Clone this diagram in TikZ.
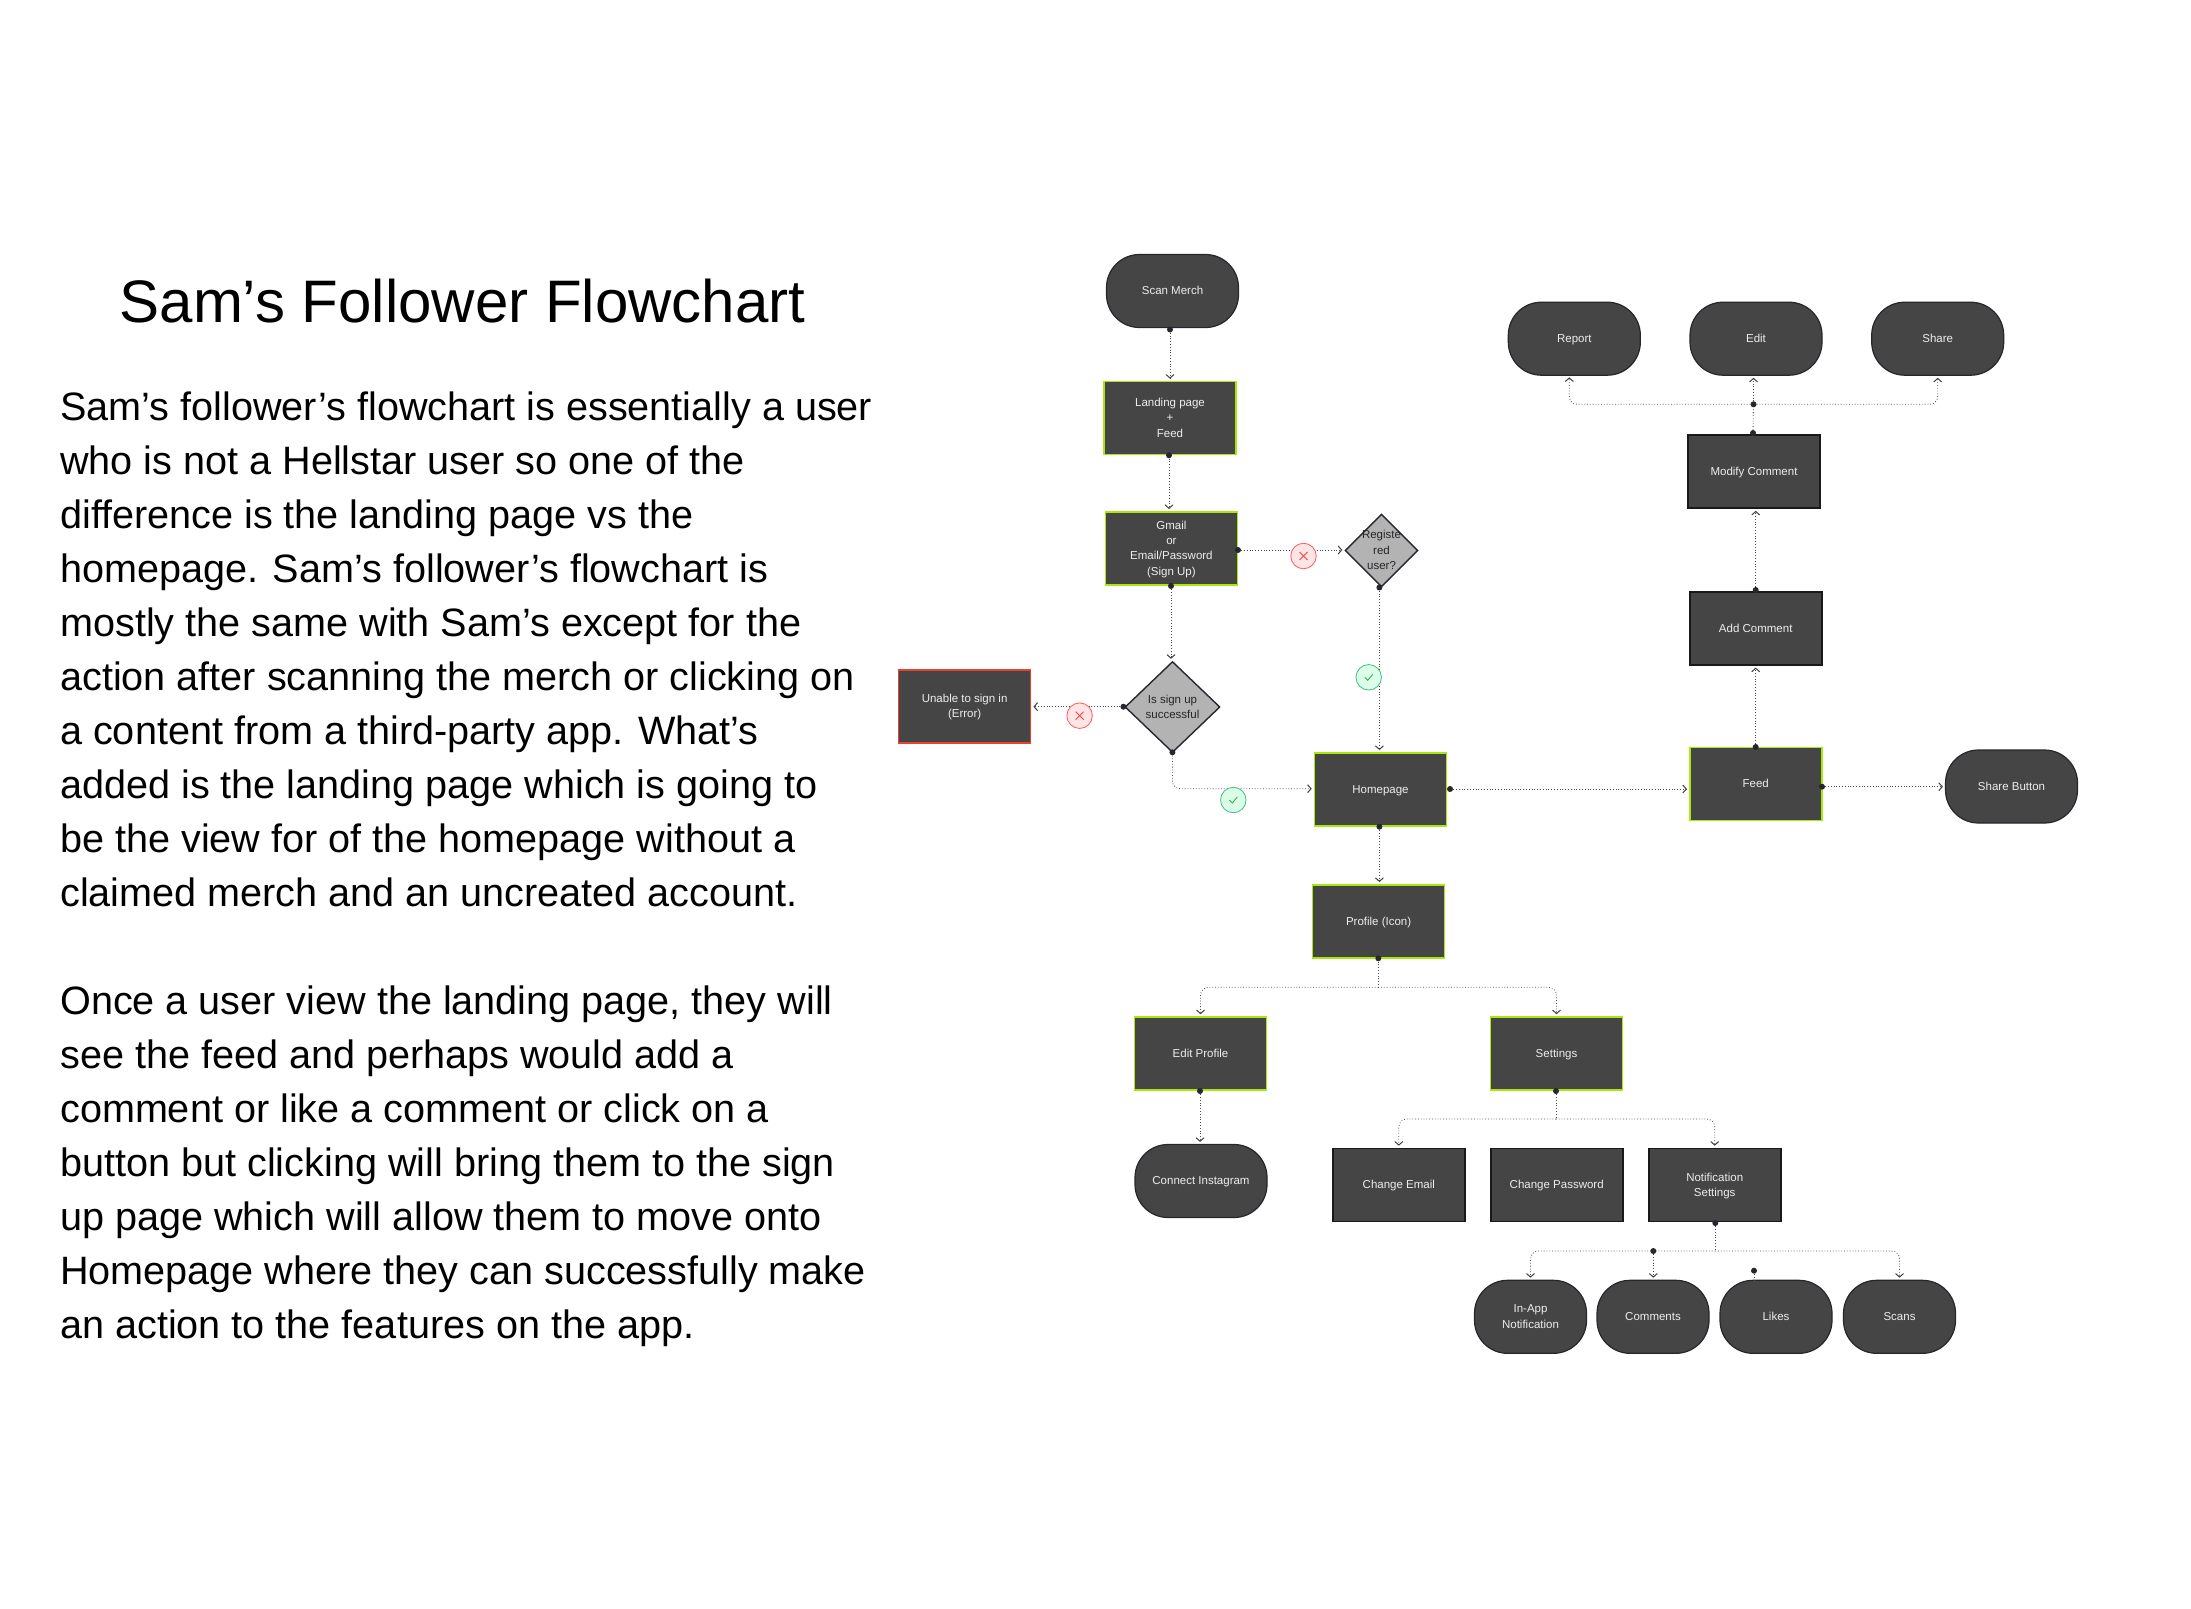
\documentclass[tikz,border=0pt]{standalone}
\usepackage{fontspec}
\setmainfont{Liberation Sans}
\usetikzlibrary{arrows.meta,shapes.geometric}
\definecolor{boxfill}{HTML}{454545}
\definecolor{edgedark}{HTML}{26262E}
\definecolor{lime}{HTML}{A9E80C}
\definecolor{dia}{HTML}{B3B3B3}
\definecolor{errred}{HTML}{E8432E}
\newcommand{\tl}[1]{\raisebox{-0.7pt}[\height][\depth]{\begin{tabular}{@{}c@{}}#1\end{tabular}}}
\tikzset{
 x=1pt,y=-1pt,
 boxbase/.style={fill=boxfill,minimum width=132pt,minimum height=73pt,inner sep=0pt,align=center,text=white!93!black,font=\fontsize{11.5}{15.3}\selectfont},
 limebox/.style={boxbase,draw=lime,line width=1.6pt},
 redbox/.style={boxbase,draw=errred,line width=1.6pt},
 darkbox/.style={boxbase,draw=black!90,line width=1.6pt},
 pill/.style={boxbase,draw=edgedark,line width=1.2pt,rounded corners=33pt},
 decision/.style={diamond,aspect=1,fill=dia,draw=edgedark,line width=1.4pt,inner sep=0pt,align=center,text=black!85,font=\fontsize{11.5}{15.3}\selectfont},
 dotm/.style={circle,fill=edgedark,minimum size=6pt,inner sep=0pt},
 conn/.style={draw=black!70,line width=0.8pt,dotted,shorten >=2pt,rounded corners=8pt,-{Straight Barb[length=3.5pt,width=8pt,line width=1pt,black!75]}},
 link/.style={draw=black!70,line width=0.8pt,dotted,rounded corners=8pt},
 nobadge/.style={circle,fill=red!10,draw=red!65,line width=0.8pt,minimum size=25.5pt,inner sep=0pt},
 yesbadge/.style={circle,fill=green!60!cyan!15,draw=green!50!cyan!60!black!70,line width=0.8pt,minimum size=25.5pt,inner sep=0pt},
 cross/.style={draw=red!75,line width=0.9pt},
 tick/.style={draw=green!50!black!70,line width=0.9pt},
}
\begin{document}
\begin{tikzpicture}
\useasboundingbox (0,0) rectangle (2191,1608);
\node[anchor=center,inner sep=0pt,font=\fontsize{60}{70}\selectfont] (title) at (462.5,301) {Sam’s Follower Flowchart};
\node[anchor=north west,inner sep=0pt,align=left,font=\fontsize{39.6}{54.03}\selectfont] (body) at (60,391.5) {Sam’s follower’s flowchart is essentially a user\\
who is not a Hellstar user so one of the\\
difference is the landing page vs the\\
homepage. Sam’s follower’s flowchart is\\
mostly the same with Sam’s except for the\\
action after scanning the merch or clicking on\\
a content from a third-party app. What’s\\
added is the landing page which is going to\\
be the view for of the homepage without a\\
claimed merch and an uncreated account.\\
\mbox{}\\
Once a user view the landing page, they will\\
see the feed and perhaps would add a\\
comment or like a comment or click on a\\
button but clicking will bring them to the sign\\
up page which will allow them to move onto\\
Homepage where they can successfully make\\
an action to the features on the app.};

% nodes
\node[pill] (scan) at (1172.5,291) {\tl{Scan Merch}};
\node[limebox] (landing) at (1170,418) {\tl{Landing page\\+\\Feed}};
\node[limebox] (gmail) at (1171.4,548.3) {\tl{Gmail\\or\\Email/Password\\(Sign Up)}};
\node[decision,minimum width=73pt,minimum height=73pt,inner sep=-3.6pt] (reg) at (1381.5,550.5) {\tl{Registe\\red\\user?}};
\node[decision,minimum width=95pt,minimum height=91pt,aspect=1.04] (ok) at (1172.5,707) {\tl{Is sign up\\successful}};
\node[redbox] (err) at (964.6,706.3) {\tl{Unable to sign in\\(Error)}};
\node[limebox] (home) at (1380.5,789.3) {\tl{Homepage}};
\node[limebox] (profile) at (1378.6,921.3) {\tl{Profile (Icon)}};
\node[limebox] (edit) at (1200.5,1053.5) {\tl{Edit Profile}};
\node[limebox] (settings) at (1556.5,1053.5) {\tl{Settings}};
\node[pill] (insta) at (1201,1181) {\tl{Connect Instagram}};
\node[darkbox] (email) at (1398.8,1185) {\tl{Change Email}};
\node[darkbox] (pass) at (1556.7,1185) {\tl{Change Password}};
\node[darkbox] (notif) at (1714.7,1185) {\tl{Notification\\Settings}};
\node[pill,minimum width=112pt] (inapp) at (1530.5,1316.8) {\tl{In-App\\Notification}};
\node[pill,minimum width=112pt] (comments) at (1653,1316.8) {\tl{Comments}};
\node[pill,minimum width=112pt] (likes) at (1776,1316.8) {\tl{Likes}};
\node[pill,minimum width=112pt] (scans) at (1899.5,1316.8) {\tl{Scans}};
\node[pill] (report) at (1574.3,338.7) {\tl{Report}};
\node[pill] (editc) at (1756,338.7) {\tl{Edit}};
\node[pill] (share) at (1937.7,338.7) {\tl{Share}};
\node[darkbox] (modify) at (1754,471.5) {\tl{Modify Comment}};
\node[darkbox] (add) at (1755.7,628.3) {\tl{Add Comment}};
\node[limebox] (feed) at (1755.7,784) {\tl{Feed}};
\node[pill] (sharebtn) at (2011.5,786.5) {\tl{Share Button}};

% connector origins
\node[dotm] (d1) at (1170,329.5) {};
\node[dotm] (d2) at (1169,455.3) {};
\node[dotm] (d3) at (1238,550) {};
\node[dotm] (d4) at (1171,586) {};
\node[dotm] (d5) at (1379.4,587.5) {};
\node[dotm] (d6) at (1123.4,706.7) {};
\node[dotm] (d7) at (1172.4,752.3) {};
\node[dotm] (d8) at (1450,789) {};
\node[dotm] (d9) at (1379.4,826.7) {};
\node[dotm] (d10) at (1378.3,958.3) {};
\node[dotm] (d11) at (1200,1091) {};
\node[dotm] (d12) at (1556,1091) {};
\node[dotm] (d13) at (1715.3,1223) {};
\node[dotm] (d14) at (1653.3,1251) {};
\node[dotm] (d15) at (1754,1270.7) {};
\node[dotm] (d16) at (1755.7,747) {};
\node[dotm] (d17) at (1755.7,590) {};
\node[dotm] (d18) at (1753,433) {};
\node[dotm] (d19) at (1753.5,404.3) {};
\node[dotm] (d20) at (1822,786.7) {};
\coordinate (c1) at (1172.4,788.7);
\coordinate (c2) at (1378.3,987.3);
\coordinate (c3) at (1556,1119);
\coordinate (c4) at (1715.3,1251);
\coordinate (t1) at (1569.3,375.3);

% connectors
\draw[conn] (d1) -- (d1 |- landing.north);
\draw[conn] (d2) -- (d2 |- gmail.north);
\draw[conn] (d3) -- (d3 -| reg.west);
\draw[conn] (d4) -- (d4 |- ok.north);
\draw[conn] (d5) -- (d5 |- home.north);
\draw[conn] (d6) -- (d6 -| err.east);
\draw[conn] (d7) -- (c1) -- (c1 -| home.west);
\draw[conn] (d8) -- (d8 -| feed.west);
\draw[conn] (d9) -- (d9 |- profile.north);
\draw[link] (d10) -- (c2);
\draw[conn] (c2) -- (edit.north |- c2) -- (edit.north);
\draw[conn] (c2) -- (settings.north |- c2) -- (settings.north);
\draw[conn] (d11) -- (d11 |- insta.north);
\draw[link] (d12) -- (c3);
\draw[conn] (c3) -- (email.north |- c3) -- (email.north);
\draw[conn] (c3) -- (notif.north |- c3) -- (notif.north);
\draw[link] (d13) -- (c4);
\draw[conn] (c4) -- (inapp.north |- c4) -- (inapp.north);
\draw[conn] (c4) -- (scans.north |- c4) -- (scans.north);
\draw[conn] (d14) -- (d14 |- comments.north);
\draw[link] (d15) -- (d15 |- likes.north);
\draw[conn] (d16) -- (d16 |- add.south);
\draw[conn] (d17) -- (d17 |- modify.south);
\draw[link] (d18) -- (d19);
\draw[conn] (d19) -- (d19 |- editc.south);
\draw[conn] (d19) -- (t1 |- d19) -- (t1);
\draw[conn] (d19) -- (share.south |- d19) -- (share.south);
\draw[conn] (d20) -- (d20 -| sharebtn.west);

% badges
\node[nobadge] (n1) at (1303.5,556) {};
\draw[cross] ([shift={(-4,-4)}]n1.center) -- ([shift={(4,4)}]n1.center);
\draw[cross] ([shift={(-4,4)}]n1.center) -- ([shift={(4,-4)}]n1.center);
\node[nobadge] (n2) at (1079.6,715.7) {};
\draw[cross] ([shift={(-4,-4)}]n2.center) -- ([shift={(4,4)}]n2.center);
\draw[cross] ([shift={(-4,4)}]n2.center) -- ([shift={(4,-4)}]n2.center);
\node[yesbadge] (y1) at (1368.7,677.3) {};
\draw[tick] ([shift={(-4,0)}]y1.center) -- ([shift={(-1,3)}]y1.center) -- ([shift={(4,-3)}]y1.center);
\node[yesbadge] (y2) at (1233.3,800) {};
\draw[tick] ([shift={(-4,0)}]y2.center) -- ([shift={(-1,3)}]y2.center) -- ([shift={(4,-3)}]y2.center);
\end{tikzpicture}
\end{document}
